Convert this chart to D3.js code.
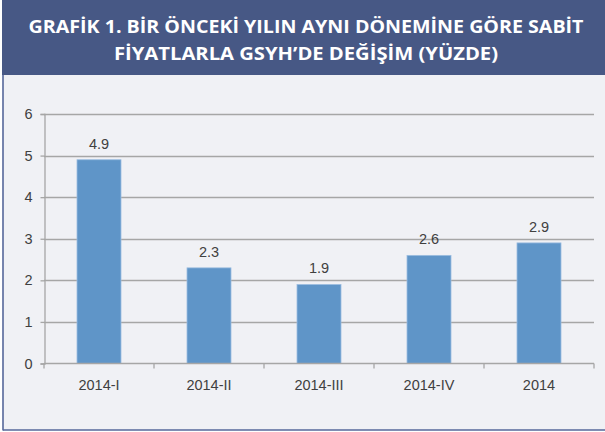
<!DOCTYPE html>
<html><head><meta charset="utf-8">
<script src="https://cdn.jsdelivr.net/npm/d3@7"></script>
<style>html,body{margin:0;padding:0;background:#fff;}svg{display:block;}</style>
</head><body>
<svg id="chart" width="605" height="432"></svg>
<script>
const titleLines = ["GRAFİK 1. BİR ÖNCEKİ YILIN AYNI DÖNEMİNE GÖRE SABİT", "FİYATLARLA GSYH’DE DEĞİŞİM (YÜZDE)"];
const categories = ["2014-I", "2014-II", "2014-III", "2014-IV", "2014"];
const values = [4.9, 2.3, 1.9, 2.6, 2.9];
const valueLabels = ["4.9", "2.3", "1.9", "2.6", "2.9"];
const yTicks = [0, 1, 2, 3, 4, 5, 6];

const W = 605, H = 432;
const svg = d3.select("#chart");

// backgrounds
svg.append("rect").attr("x", 0).attr("y", 0).attr("width", W).attr("height", H).attr("fill", "#ffffff");
svg.append("rect").attr("x", 3).attr("y", 75).attr("width", W - 3).attr("height", 355).attr("fill", "#f0f1f5");
svg.append("rect").attr("x", 2).attr("y", 0).attr("width", W - 2).attr("height", 75).attr("fill", "#475885");
// frame lines
svg.append("line").attr("x1", 3).attr("x2", 3).attr("y1", 75).attr("y2", 430.5)
  .attr("stroke", "#56679a").attr("stroke-width", 1.6);
svg.append("line").attr("x1", 3).attr("x2", W).attr("y1", 430).attr("y2", 430)
  .attr("stroke", "#56679a").attr("stroke-width", 1.6);

// title
const titleWidths = [555, 384];
const titleBase = [33, 60];
titleLines.forEach((t, i) => {
  svg.append("text").attr("x", 306).attr("y", titleBase[i])
    .attr("text-anchor", "middle")
    .attr("font-family", "'Open Sans', sans-serif").attr("font-weight", "bold")
    .attr("font-size", 17).attr("fill", "#ffffff")
    .attr("textLength", titleWidths[i]).attr("lengthAdjust", "spacingAndGlyphs")
    .text(t);
});

// scales
const x = d3.scaleBand().domain(categories).range([44, 594]).paddingInner(0.6).paddingOuter(0.3);
const y = d3.scaleLinear().domain([0, 6]).range([363.5, 114]);

const font = "'Liberation Sans', Arial, sans-serif";
const textColor = "#404040";
const gridColor = "#a6a6a6";

// gridlines
svg.append("g").selectAll("line").data(yTicks.filter(d => d > 0)).join("line")
  .attr("x1", 44).attr("x2", 594)
  .attr("y1", d => Math.round(y(d)) + 0.5).attr("y2", d => Math.round(y(d)) + 0.5)
  .attr("stroke", gridColor).attr("stroke-width", 1.3);

// y axis
const yAxis = svg.append("g").attr("transform", "translate(44.5,0)")
  .call(d3.axisLeft(y).tickValues(yTicks).tickSize(4).tickPadding(8).tickFormat(d3.format("d")));
yAxis.select(".domain").attr("stroke", gridColor).attr("stroke-width", 1.3);
yAxis.selectAll(".tick line").attr("stroke", gridColor).attr("stroke-width", 1.3);
yAxis.selectAll(".tick text").attr("font-family", font).attr("font-size", 14.5).attr("fill", textColor);

// bars
svg.append("g").selectAll("rect").data(values).join("rect")
  .attr("x", (d, i) => x(categories[i]))
  .attr("y", d => y(d))
  .attr("width", x.bandwidth())
  .attr("height", d => y(0) - y(d))
  .attr("fill", "#5f95c8")
  .attr("stroke", "#9cbde0").attr("stroke-width", 0.8);

// x axis
const xb = d3.scaleBand().domain(categories).range([44, 594]);
const xAxisG = svg.append("g").attr("transform", `translate(0,${y(0)})`);
xAxisG.append("line").attr("x1", 44).attr("x2", 594).attr("y1", 0).attr("y2", 0)
  .attr("stroke", gridColor).attr("stroke-width", 1.3);
const bounds = categories.map(c => xb(c)).concat([594]);
xAxisG.selectAll("line.tk").data(bounds).join("line").attr("class", "tk")
  .attr("x1", d => d).attr("x2", d => d).attr("y1", 0).attr("y2", 5)
  .attr("stroke", gridColor).attr("stroke-width", 1.3);
xAxisG.selectAll("text").data(categories).join("text")
  .attr("x", d => xb(d) + xb.bandwidth() / 2).attr("y", 26)
  .attr("text-anchor", "middle").attr("font-family", font).attr("font-size", 14.5).attr("fill", textColor)
  .text(d => d);

// value labels
svg.append("g").selectAll("text").data(values).join("text")
  .attr("x", (d, i) => x(categories[i]) + x.bandwidth() / 2)
  .attr("y", d => y(d) - 11)
  .attr("text-anchor", "middle").attr("font-family", font).attr("font-size", 14.5).attr("fill", textColor)
  .text((d, i) => valueLabels[i]);
</script>
</body></html>
